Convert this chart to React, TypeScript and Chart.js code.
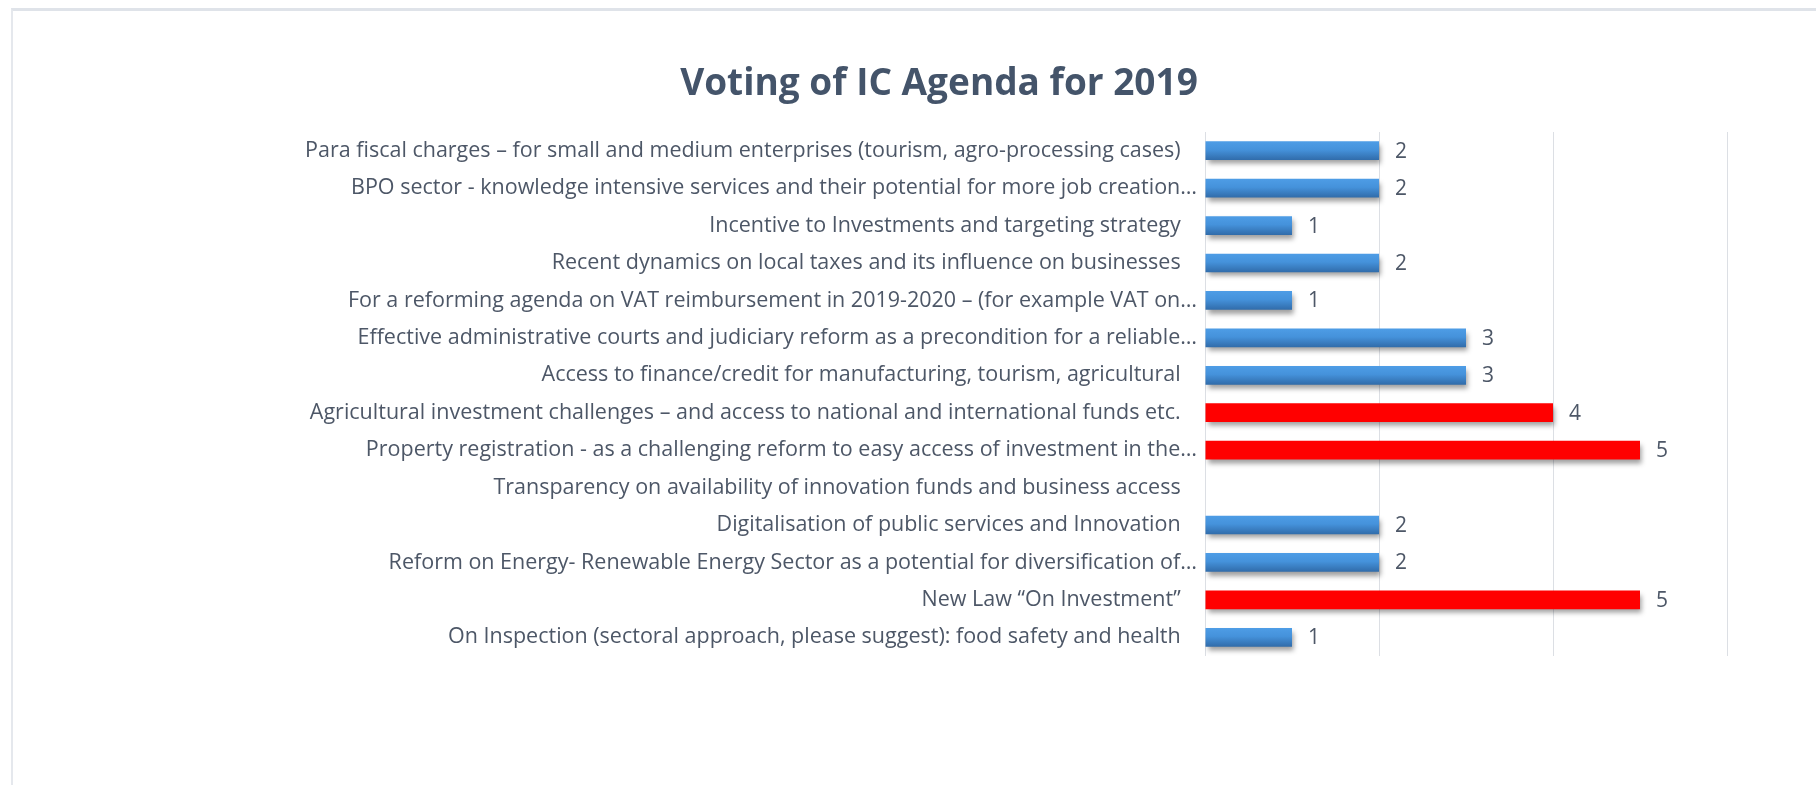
import React, { useEffect, useRef } from "react";
import { Chart, registerables } from "chart.js";

Chart.register(...registerables);

const TITLE = "Voting of IC Agenda for 2019";

const categories: string[] = [
  "Para fiscal charges – for small and medium enterprises (tourism, agro-processing cases)",
  "BPO sector - knowledge intensive services and their potential for more job creation…",
  "Incentive to Investments and targeting strategy",
  "Recent dynamics on local taxes and its influence on businesses",
  "For a reforming agenda on VAT reimbursement in 2019-2020 – (for example VAT on…",
  "Effective administrative courts and judiciary reform as a precondition for a reliable…",
  "Access to finance/credit for manufacturing, tourism, agricultural",
  "Agricultural investment challenges – and access to national and international funds etc.",
  "Property registration - as a challenging reform to easy access of investment in the…",
  "Transparency on availability of innovation funds and business access",
  "Digitalisation of public services and Innovation",
  "Reform on Energy- Renewable Energy Sector as a potential for diversification of…",
  "New Law “On Investment”",
  "On Inspection (sectoral approach, please suggest): food safety and health",
];

const votes: (number | null)[] = [2, 2, 1, 2, 1, 3, 3, 4, 5, null, 2, 2, 5, 1];

const xTicks = { min: 0, max: 6, step: 2 };

const FONT = "'Open Sans', Lato, sans-serif";
const TEXT_COLOR = "#4d5767";
const TITLE_COLOR = "#44546A";

const shadowAndLabels = {
  id: "shadowAndLabels",
  beforeDatasetsDraw(chart: any) {
    const ctx = chart.ctx;
    ctx.save();
    ctx.shadowColor = "rgba(0,0,0,0.38)";
    ctx.shadowBlur = 5;
    ctx.shadowOffsetX = 2;
    ctx.shadowOffsetY = 4;
  },
  afterDatasetsDraw(chart: any) {
    const ctx = chart.ctx;
    ctx.restore();
    const meta = chart.getDatasetMeta(0);
    ctx.save();
    ctx.font = `21px ${FONT}`;
    ctx.fillStyle = TEXT_COLOR;
    ctx.textAlign = "left";
    ctx.textBaseline = "middle";
    meta.data.forEach((el: any, i: number) => {
      const v = chart.data.datasets[0].data[i];
      if (v === null || v === undefined) return;
      ctx.fillText(String(v), el.x + 16, el.y + 1);
    });
    ctx.restore();
  },
};

function barColor(c: any) {
  const v = c.raw as number;
  if (v >= 4) return "#FF0000";
  const chart = c.chart;
  const yScale = chart.scales && chart.scales.y;
  if (!chart.chartArea || !yScale || c.dataIndex === undefined) return "#4390D9";
  const yc = yScale.getPixelForValue(c.dataIndex);
  const h = 19;
  const g = chart.ctx.createLinearGradient(0, yc - h / 2, 0, yc + h / 2);
  g.addColorStop(0, "#4E9DE6");
  g.addColorStop(0.45, "#4592DB");
  g.addColorStop(1, "#306BA9");
  return g;
}

export default function App() {
  const ref = useRef<HTMLCanvasElement | null>(null);
  useEffect(() => {
    if (!ref.current) return;
    const chart = new Chart(ref.current, {
      type: "bar",
      data: {
        labels: categories,
        datasets: [
          {
            data: votes,
            backgroundColor: barColor,
            borderWidth: 0,
            categoryPercentage: 1,
            barPercentage: 0.5,
          },
        ],
      },
      options: {
        indexAxis: "y",
        responsive: false,
        animation: false,
        devicePixelRatio: 1,
        layout: { padding: { left: 151, right: 89, top: 0, bottom: 129 } },
        plugins: {
          legend: { display: false },
          tooltip: { enabled: false },
          title: {
            display: true,
            text: TITLE,
            color: TITLE_COLOR,
            font: { family: FONT, size: 37, weight: "bold" },
            padding: { top: 62, bottom: 25.6 },
          },
        },
        scales: {
          x: {
            min: xTicks.min,
            max: xTicks.max,
            ticks: { display: false, stepSize: xTicks.step },
            grid: { color: "#DCDFE4", lineWidth: 1, drawTicks: false },
            border: { display: false },
          },
          y: {
            afterFit: (s: any) => {
              s.width = 1054;
            },
            grid: { display: false, drawTicks: false },
            border: { display: false },
            ticks: {
              autoSkip: false,
              padding: 8,
              color: TEXT_COLOR,
              font: { family: FONT, size: 21.5 },
              callback: (_v: any, i: number) => {
                const t = categories[i];
                return t.endsWith("…") ? t : t + "\u2002 ";
              },
            },
          },
        },
      },
      plugins: [shadowAndLabels],
    } as any);
    return () => chart.destroy();
  }, []);

  return (
    <div style={{ position: "fixed", left: 0, top: 0, width: 1816, height: 785, background: "#fff", overflow: "hidden" }}>
      <div
        style={{
          position: "absolute",
          left: 11,
          top: 8,
          width: 1900,
          height: 900,
          borderTop: "3px solid #DFE3E9",
          borderLeft: "2px solid #E5E8ED",
        }}
      />
      <canvas ref={ref} width={1816} height={785} style={{ position: "absolute", left: 0, top: 0 }} />
    </div>
  );
}
